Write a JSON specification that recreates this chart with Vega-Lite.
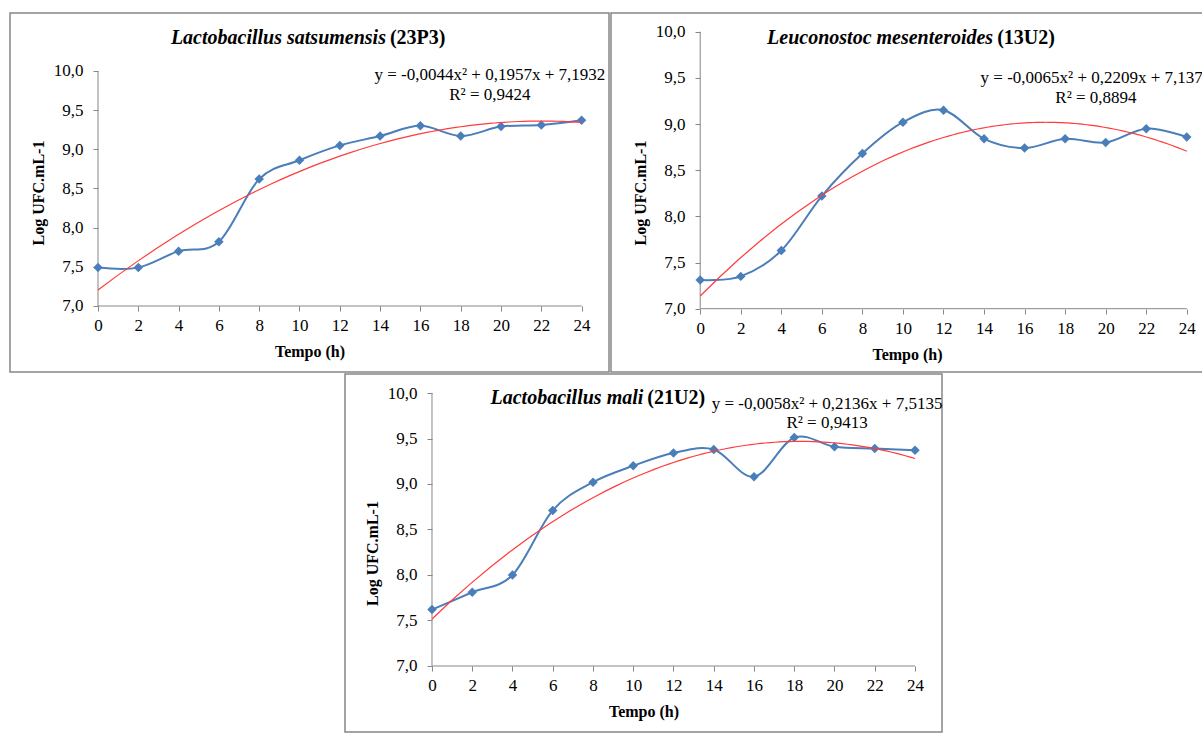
{
  "$schema": "https://vega.github.io/schema/vega-lite/v6.json",
  "padding": {"left": 9, "top": 12, "right": 0, "bottom": 0},
  "background": "white",
  "config": {
    "font": "Liberation Serif",
    "view": {"stroke": "#868686", "strokeWidth": 1.5, "fill": "white"},
    "axis": {
      "grid": false,
      "domain": false,
      "labelFont": "Liberation Serif",
      "labelFontSize": 17,
      "labelColor": "#000000",
      "titleFont": "Liberation Serif",
      "titleFontSize": 16,
      "titleFontWeight": "bold",
      "titleColor": "#000000",
      "tickColor": "#868686",
      "tickSize": 5
    },
    "axisX": {"titlePadding": 10, "labelPadding": 6},
    "axisY": {"titlePadding": 7, "labelPadding": 10}
  },
  "datasets": {
    "p1": [
      {"t": 0, "v": 7.49}, {"t": 2, "v": 7.49}, {"t": 4, "v": 7.70}, {"t": 6, "v": 7.82},
      {"t": 8, "v": 8.62}, {"t": 10, "v": 8.86}, {"t": 12, "v": 9.05}, {"t": 14, "v": 9.17},
      {"t": 16, "v": 9.30}, {"t": 18, "v": 9.17}, {"t": 20, "v": 9.29}, {"t": 22, "v": 9.31},
      {"t": 24, "v": 9.37}
    ],
    "p2": [
      {"t": 0, "v": 7.31}, {"t": 2, "v": 7.35}, {"t": 4, "v": 7.63}, {"t": 6, "v": 8.22},
      {"t": 8, "v": 8.68}, {"t": 10, "v": 9.02}, {"t": 12, "v": 9.15}, {"t": 14, "v": 8.84},
      {"t": 16, "v": 8.74}, {"t": 18, "v": 8.84}, {"t": 20, "v": 8.80}, {"t": 22, "v": 8.95},
      {"t": 24, "v": 8.86}
    ],
    "p3": [
      {"t": 0, "v": 7.62}, {"t": 2, "v": 7.81}, {"t": 4, "v": 8.00}, {"t": 6, "v": 8.71},
      {"t": 8, "v": 9.02}, {"t": 10, "v": 9.20}, {"t": 12, "v": 9.34}, {"t": 14, "v": 9.38},
      {"t": 16, "v": 9.08}, {"t": 18, "v": 9.51}, {"t": 20, "v": 9.41}, {"t": 22, "v": 9.39},
      {"t": 24, "v": 9.37}
    ]
  },
  "spacing": 0,
  "vconcat": [
    {
      "spacing": 0,
      "hconcat": [
        {
          "width": 599,
          "height": 359,
          "layer": [
            {"data": {"values": [{"a": 0}]}, "mark": {"type": "rule", "color": "#868686", "strokeWidth": 1},
              "encoding": {
                "x": {"datum": 0, "type": "quantitative",
                  "scale": {"domain": [-4.367, 25.36], "nice": false, "zero": false},
                  "axis": {"values": [0, 2, 4, 6, 8, 10, 12, 14, 16, 18, 20, 22, 24], "offset": -66, "title": "Tempo (h)"}},
                "x2": {"datum": 24},
                "y": {"datum": 7, "type": "quantitative",
                  "scale": {"domain": [6.1574, 10.7404], "nice": false, "zero": false},
                  "axis": {"values": [7, 7.5, 8, 8.5, 9, 9.5, 10], "offset": -88, "title": "Log UFC.mL-1",
                    "labelExpr": "replace(format(datum.value, '.1f'), '.', ',')"}}}},
            {"data": {"values": [{"a": 0}]}, "mark": {"type": "rule", "color": "#868686", "strokeWidth": 1},
              "encoding": {"x": {"datum": 0, "type": "quantitative"}, "y": {"datum": 7, "type": "quantitative"}, "y2": {"datum": 10}}},
            {"data": {"name": "p1"}, "mark": {"type": "line", "color": "#4A7EBB", "strokeWidth": 2, "interpolate": "cardinal", "tension": 0},
              "encoding": {"x": {"field": "t", "type": "quantitative"}, "y": {"field": "v", "type": "quantitative"}}},
            {"data": {"name": "p1"}, "mark": {"type": "point", "shape": "diamond", "filled": true, "size": 90, "color": "#4A7EBB", "opacity": 1},
              "encoding": {"x": {"field": "t", "type": "quantitative"}, "y": {"field": "v", "type": "quantitative"}}},
            {"data": {"name": "p1"}, "transform": [{"regression": "v", "on": "t", "method": "poly", "order": 2, "extent": [0, 24]}],
              "mark": {"type": "line", "color": "#FF3B3B", "strokeWidth": 1.2},
              "encoding": {"x": {"field": "t", "type": "quantitative"}, "y": {"field": "v", "type": "quantitative"}}},
            {"data": {"values": [{"label": "Lactobacillus satsumensis"}]},
              "mark": {"type": "text", "align": "right", "baseline": "middle", "fontSize": 20, "fontWeight": "bold", "fontStyle": "italic", "font": "Liberation Serif", "color": "#000000"},
              "encoding": {"x": {"datum": 14.29, "type": "quantitative"}, "y": {"datum": 10.421, "type": "quantitative"}, "text": {"field": "label", "type": "nominal"}}},
            {"data": {"values": [{"label": "(23P3)"}]},
              "mark": {"type": "text", "align": "left", "baseline": "middle", "fontSize": 20, "fontWeight": "bold", "dx": 4, "font": "Liberation Serif", "color": "#000000"},
              "encoding": {"x": {"datum": 14.29, "type": "quantitative"}, "y": {"datum": 10.421, "type": "quantitative"}, "text": {"field": "label", "type": "nominal"}}},
            {"data": {"values": [{"label": "y = -0,0044x² + 0,1957x + 7,1932"}]},
              "mark": {"type": "text", "align": "center", "baseline": "middle", "fontSize": 17, "font": "Liberation Serif", "color": "#000000"},
              "encoding": {"x": {"datum": 19.45, "type": "quantitative"}, "y": {"datum": 9.949, "type": "quantitative"}, "text": {"field": "label", "type": "nominal"}}},
            {"data": {"values": [{"label": "R² = 0,9424"}]},
              "mark": {"type": "text", "align": "center", "baseline": "middle", "fontSize": 17, "font": "Liberation Serif", "color": "#000000"},
              "encoding": {"x": {"datum": 19.45, "type": "quantitative"}, "y": {"datum": 9.69, "type": "quantitative"}, "text": {"field": "label", "type": "nominal"}}}
          ]
        },
        {
          "width": 592,
          "height": 359,
          "layer": [
            {"data": {"values": [{"a": 0}]}, "mark": {"type": "rule", "color": "#868686", "strokeWidth": 1},
              "encoding": {
                "x": {"datum": 0, "type": "quantitative",
                  "scale": {"domain": [-4.40, 24.80], "nice": false, "zero": false},
                  "axis": {"values": [0, 2, 4, 6, 8, 10, 12, 14, 16, 18, 20, 22, 24], "offset": -63, "title": "Tempo (h)"}},
                "x2": {"datum": 24},
                "y": {"datum": 7, "type": "quantitative",
                  "scale": {"domain": [6.3144, 10.2025], "nice": false, "zero": false},
                  "axis": {"values": [7, 7.5, 8, 8.5, 9, 9.5, 10], "offset": -89, "title": "Log UFC.mL-1",
                    "labelExpr": "replace(format(datum.value, '.1f'), '.', ',')"}}}},
            {"data": {"values": [{"a": 0}]}, "mark": {"type": "rule", "color": "#868686", "strokeWidth": 1},
              "encoding": {"x": {"datum": 0, "type": "quantitative"}, "y": {"datum": 7, "type": "quantitative"}, "y2": {"datum": 10}}},
            {"data": {"name": "p2"}, "mark": {"type": "line", "color": "#4A7EBB", "strokeWidth": 2, "interpolate": "cardinal", "tension": 0},
              "encoding": {"x": {"field": "t", "type": "quantitative"}, "y": {"field": "v", "type": "quantitative"}}},
            {"data": {"name": "p2"}, "mark": {"type": "point", "shape": "diamond", "filled": true, "size": 90, "color": "#4A7EBB", "opacity": 1},
              "encoding": {"x": {"field": "t", "type": "quantitative"}, "y": {"field": "v", "type": "quantitative"}}},
            {"data": {"name": "p2"}, "transform": [{"regression": "v", "on": "t", "method": "poly", "order": 2, "extent": [0, 24]}],
              "mark": {"type": "line", "color": "#FF3B3B", "strokeWidth": 1.2},
              "encoding": {"x": {"field": "t", "type": "quantitative"}, "y": {"field": "v", "type": "quantitative"}}},
            {"data": {"values": [{"label": "Leuconostoc mesenteroides"}]},
              "mark": {"type": "text", "align": "right", "baseline": "middle", "fontSize": 20, "fontWeight": "bold", "fontStyle": "italic", "font": "Liberation Serif", "color": "#000000"},
              "encoding": {"x": {"datum": 14.45, "type": "quantitative"}, "y": {"datum": 9.932, "type": "quantitative"}, "text": {"field": "label", "type": "nominal"}}},
            {"data": {"values": [{"label": "(13U2)"}]},
              "mark": {"type": "text", "align": "left", "baseline": "middle", "fontSize": 20, "fontWeight": "bold", "dx": 4, "font": "Liberation Serif", "color": "#000000"},
              "encoding": {"x": {"datum": 14.45, "type": "quantitative"}, "y": {"datum": 9.932, "type": "quantitative"}, "text": {"field": "label", "type": "nominal"}}},
            {"data": {"values": [{"label": "y = -0,0065x² + 0,2209x + 7,1371"}]},
              "mark": {"type": "text", "align": "center", "baseline": "middle", "fontSize": 17, "font": "Liberation Serif", "color": "#000000", "clip": true},
              "encoding": {"x": {"datum": 19.52, "type": "quantitative"}, "y": {"datum": 9.4985, "type": "quantitative"}, "text": {"field": "label", "type": "nominal"}}},
            {"data": {"values": [{"label": "R² = 0,8894"}]},
              "mark": {"type": "text", "align": "center", "baseline": "middle", "fontSize": 17, "font": "Liberation Serif", "color": "#000000"},
              "encoding": {"x": {"datum": 19.52, "type": "quantitative"}, "y": {"datum": 9.282, "type": "quantitative"}, "text": {"field": "label", "type": "nominal"}}}
          ]
        }
      ]
    },
    {
      "spacing": 0,
      "hconcat": [
        {
          "width": 334,
          "height": 20,
          "data": {"values": [{"a": 0}]},
          "mark": {"type": "point", "opacity": 0},
          "view": {"stroke": null, "fill": null}
        },
        {
          "width": 597,
          "height": 358,
          "layer": [
            {"data": {"values": [{"a": 0}]}, "mark": {"type": "rule", "color": "#868686", "strokeWidth": 1},
              "encoding": {
                "x": {"datum": 0, "type": "quantitative",
                  "scale": {"domain": [-4.323, 25.342], "nice": false, "zero": false},
                  "axis": {"values": [0, 2, 4, 6, 8, 10, 12, 14, 16, 18, 20, 22, 24], "offset": -66, "title": "Tempo (h)"}},
                "x2": {"datum": 24},
                "y": {"datum": 7, "type": "quantitative",
                  "scale": {"domain": [6.2747, 10.2088], "nice": false, "zero": false},
                  "axis": {"values": [7, 7.5, 8, 8.5, 9, 9.5, 10], "offset": -87, "title": "Log UFC.mL-1",
                    "labelExpr": "replace(format(datum.value, '.1f'), '.', ',')"}}}},
            {"data": {"values": [{"a": 0}]}, "mark": {"type": "rule", "color": "#868686", "strokeWidth": 1},
              "encoding": {"x": {"datum": 0, "type": "quantitative"}, "y": {"datum": 7, "type": "quantitative"}, "y2": {"datum": 10}}},
            {"data": {"name": "p3"}, "mark": {"type": "line", "color": "#4A7EBB", "strokeWidth": 2, "interpolate": "cardinal", "tension": 0},
              "encoding": {"x": {"field": "t", "type": "quantitative"}, "y": {"field": "v", "type": "quantitative"}}},
            {"data": {"name": "p3"}, "mark": {"type": "point", "shape": "diamond", "filled": true, "size": 90, "color": "#4A7EBB", "opacity": 1},
              "encoding": {"x": {"field": "t", "type": "quantitative"}, "y": {"field": "v", "type": "quantitative"}}},
            {"data": {"name": "p3"}, "transform": [{"regression": "v", "on": "t", "method": "poly", "order": 2, "extent": [0, 24]}],
              "mark": {"type": "line", "color": "#FF3B3B", "strokeWidth": 1.2},
              "encoding": {"x": {"field": "t", "type": "quantitative"}, "y": {"field": "v", "type": "quantitative"}}},
            {"data": {"values": [{"label": "Lactobacillus mali"}]},
              "mark": {"type": "text", "align": "right", "baseline": "middle", "fontSize": 20, "fontWeight": "bold", "fontStyle": "italic", "font": "Liberation Serif", "color": "#000000"},
              "encoding": {"x": {"datum": 10.5, "type": "quantitative"}, "y": {"datum": 9.945, "type": "quantitative"}, "text": {"field": "label", "type": "nominal"}}},
            {"data": {"values": [{"label": "(21U2)"}]},
              "mark": {"type": "text", "align": "left", "baseline": "middle", "fontSize": 20, "fontWeight": "bold", "dx": 4, "font": "Liberation Serif", "color": "#000000"},
              "encoding": {"x": {"datum": 10.5, "type": "quantitative"}, "y": {"datum": 9.945, "type": "quantitative"}, "text": {"field": "label", "type": "nominal"}}},
            {"data": {"values": [{"label": "y = -0,0058x² + 0,2136x + 7,5135"}]},
              "mark": {"type": "text", "align": "center", "baseline": "middle", "fontSize": 17, "font": "Liberation Serif", "color": "#000000"},
              "encoding": {"x": {"datum": 19.63, "type": "quantitative"}, "y": {"datum": 9.879, "type": "quantitative"}, "text": {"field": "label", "type": "nominal"}}},
            {"data": {"values": [{"label": "R² = 0,9413"}]},
              "mark": {"type": "text", "align": "center", "baseline": "middle", "fontSize": 17, "font": "Liberation Serif", "color": "#000000"},
              "encoding": {"x": {"datum": 19.63, "type": "quantitative"}, "y": {"datum": 9.674, "type": "quantitative"}, "text": {"field": "label", "type": "nominal"}}}
          ]
        }
      ]
    }
  ]
}
